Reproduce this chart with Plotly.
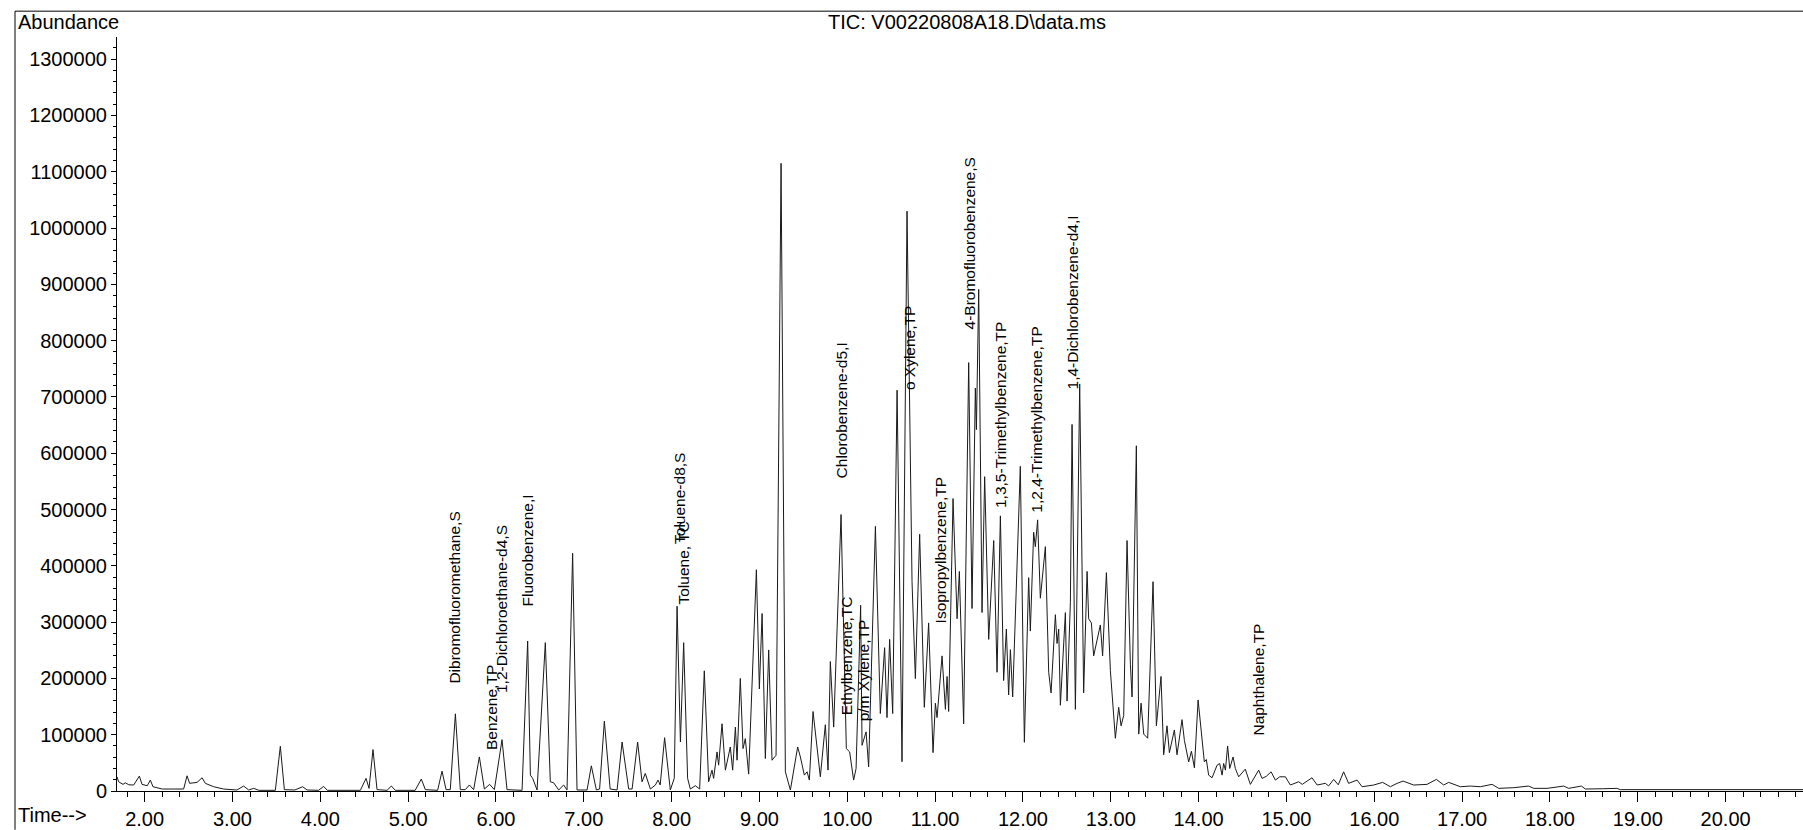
import plotly.graph_objects as go

# ---- TIC trace: retention time (min) / abundance at the trace vertices ----
t_early = [1.686, 1.704, 1.754, 1.78, 1.82, 1.875, 1.94, 1.97, 2.03, 2.065, 2.095, 2.20,
           2.444, 2.483, 2.512, 2.597, 2.654, 2.691, 2.786, 2.90, 3.05, 3.127, 3.184, 3.241,
           3.30, 3.488, 3.545, 3.591, 3.71, 3.799, 3.85, 3.98, 4.038, 4.08, 4.456, 4.521,
           4.555, 4.60, 4.646, 4.76, 4.809, 4.854, 5.08, 5.15, 5.196, 5.27, 5.336, 5.386,
           5.432, 5.48, 5.538, 5.594, 5.651, 5.697, 5.746, 5.811, 5.868, 5.928, 5.982, 6.069,
           6.126, 6.297]
a_early = [25200, 16400, 11800, 14600, 11000, 10600, 26500, 11800, 9400, 19400, 7600, 3500,
           3500, 27000, 13600, 15300, 23500, 13600, 7600, 3500, 1800, 8800, 1800, 4700,
           1200, 1200, 79400, 2400, 1800, 7600, 1800, 1200, 8200, 1200, 1200, 22400,
           4700, 73600, 2400, 1200, 8800, 1200, 1200, 21200, 2400, 1200, 1200, 35300,
           2400, 2400, 137100, 2400, 2400, 10600, 2400, 60500, 3500, 11800, 2400, 91200,
           2400, 1200]

t_mid = [6.361, 6.392, 6.418, 6.468, 6.562, 6.619, 6.657, 6.714, 6.771, 6.809, 6.873, 6.923,
         7.037, 7.086, 7.143, 7.18, 7.234, 7.30, 7.379, 7.436, 7.511, 7.55, 7.613, 7.663,
         7.70, 7.758, 7.815, 7.845, 7.87, 7.92, 7.985, 8.03, 8.062, 8.10, 8.137, 8.182,
         8.213, 8.27, 8.319, 8.372, 8.421, 8.46, 8.478, 8.517, 8.535, 8.574, 8.612, 8.668,
         8.695, 8.726, 8.745, 8.782, 8.813, 8.839, 8.877, 8.965, 8.999, 9.03, 9.067, 9.105,
         9.143, 9.189, 9.246, 9.295, 9.352]
a_mid = [266500, 28200, 22400, 1800, 263500, 16400, 14600, 1800, 10600, 1800, 422300, 1800,
         1800, 44700, 1800, 3500, 124100, 3500, 1800, 87000, 3500, 3500, 87000, 16400,
         31200, 3500, 10600, 19400, 10600, 94700, 1800, 22400, 328200, 87000, 263500, 22400,
         3500, 9400, 3500, 213500, 16400, 37000, 22400, 69400, 45900, 119400, 37000, 78200,
         37000, 113500, 54700, 200000, 75300, 93000, 30000, 393000, 181200, 315300, 57700, 250600,
         54700, 63500, 1115000, 34100, 1800]

t_core = [9.435, 9.466, 9.511, 9.542, 9.568, 9.61, 9.693, 9.75, 9.781, 9.807, 9.845, 9.929,
          9.989, 10.027, 10.072, 10.10, 10.152, 10.168, 10.214, 10.243, 10.32, 10.376, 10.425,
          10.452, 10.482, 10.517, 10.567, 10.623, 10.68, 10.737, 10.775, 10.824, 10.877,
          10.926, 10.976, 11.003, 11.022, 11.079, 11.117, 11.136, 11.154, 11.204, 11.25,
          11.276, 11.325, 11.382, 11.42, 11.458, 11.47, 11.496, 11.534, 11.564, 11.61,
          11.667, 11.705, 11.743, 11.78, 11.811, 11.837, 11.857, 11.883, 11.97, 12.016,
          12.065, 12.084, 12.122, 12.141, 12.167, 12.198, 12.255, 12.293, 12.32, 12.369,
          12.388, 12.407, 12.426, 12.483, 12.502, 12.54, 12.559, 12.597, 12.646, 12.691, 12.73]
a_core = [78200, 60500, 28200, 34100, 19400, 141200, 25200, 117700, 37100, 230000, 113500, 491100,
          75300, 69400, 19400, 40000, 330000, 81200, 105000, 42900, 470000, 137600, 254600,
          130400, 269300, 137600, 712000, 52000, 1030000, 371800, 199700, 456000, 148600,
          298600, 68100, 156000, 130400, 240000, 145000, 203500, 141300, 519500, 306000,
          390000, 119300, 761000, 324200, 715500, 642000, 891000, 317000, 558300, 269300,
          444900, 210900, 488800, 196200, 287600, 170600, 251100, 167000, 576700, 86500,
          379000, 284100, 459500, 434000, 481600, 342500, 434000, 210900, 174200, 313200,
          262000, 287600, 152300, 316900, 159700, 335300, 651100, 145000, 723000, 174200, 390000]

t_late = [12.748, 12.779, 12.805, 12.881, 12.907, 12.95, 12.995, 13.052, 13.09, 13.117, 13.147,
          13.185, 13.223, 13.242, 13.291, 13.318, 13.345, 13.375, 13.42, 13.481, 13.519, 13.572,
          13.602, 13.64, 13.667, 13.724, 13.754, 13.811, 13.838, 13.887, 13.918, 13.952, 13.994,
          14.039, 14.065, 14.088, 14.114, 14.153, 14.21, 14.24, 14.267, 14.285, 14.305, 14.33,
          14.354, 14.392, 14.418, 14.456, 14.531, 14.589, 14.684, 14.722, 14.77, 14.825, 14.874,
          14.923, 14.988, 15.044, 15.139, 15.18, 15.291, 15.349, 15.443, 15.48, 15.538, 15.59,
          15.651, 15.708, 15.804, 15.861, 15.993, 16.095, 16.183, 16.26, 16.328, 16.449, 16.6,
          16.707, 16.79, 16.847, 16.98, 17.094, 17.208, 17.341, 17.417, 17.587, 17.758, 17.815,
          17.967, 18.156, 18.213, 18.358, 18.403, 18.6, 18.765, 18.80, 19.5, 20.885]
a_late = [306000, 298600, 240000, 294900, 240000, 387900, 214400, 93700, 148600, 115800, 134100,
          444900, 225300, 167000, 613200, 101100, 156000, 101100, 93700, 371800, 115800, 203500,
          64400, 115800, 68100, 108400, 64400, 126700, 90000, 51700, 70600, 41100, 161800,
          93000, 51700, 55900, 28200, 23500, 45900, 48800, 28200, 48800, 37100, 80000,
          40000, 60500, 40000, 25200, 38800, 11800, 37100, 22400, 26000, 34100, 19400,
          25200, 25200, 10600, 16400, 11800, 23500, 10600, 13600, 9000, 20600, 11000,
          34100, 13600, 19400, 7600, 10600, 15300, 7600, 13600, 17600, 10600, 11800,
          20600, 10600, 15300, 7600, 8800, 7600, 11800, 4700, 5900, 8800, 4700,
          4700, 8800, 4700, 8800, 3500, 4000, 4700, 2400, 2400, 2400]

# ---- compound labels: name, retention time, abundance at the foot of the text ----
label_names = ["Dibromofluoromethane,S", "Benzene,TP", "1,2-Dichloroethane-d4,S",
               "Fluorobenzene,I", "Toluene-d8,S", "Toluene, TC", "Chlorobenzene-d5,I",
               "Ethylbenzene,TC", "p/m Xylene,TP", "o Xylene,TP", "Isopropylbenzene,TP",
               "4-Bromofluorobenzene,S", "1,3,5-Trimethylbenzene,TP",
               "1,2,4-Trimethylbenzene,TP", "1,4-Dichlorobenzene-d4,I", "Naphthalene,TP"]
label_times = [5.532, 5.947, 6.061, 6.357, 8.082, 8.133, 9.938, 10.001, 10.189, 10.701,
               11.065, 11.390, 11.746, 12.158, 12.568, 14.684]
label_feet = [187000, 68800, 171000, 324700, 435900, 327300, 551400, 130600, 120000, 708300,
              293800, 817000, 498500, 490600, 709400, 94400]

# ---- axes ----
time_ticks = list(range(2, 21))
abundance_ticks = list(range(0, 1300001, 100000))

t_all = t_early + t_mid + t_core + t_late
a_all = a_early + a_mid + a_core + a_late

W, H = 1803, 830
L, R, T, B = 117, 0, 37, 34
FONT = "Liberation Sans, Arial, Helvetica, sans-serif"


def px_x(px):
    return (px - L) / (W - L - R)


def px_y(py):
    return (H - B - py) / (H - T - B)


fig = go.Figure()
fig.add_trace(go.Scatter(x=t_all, y=a_all, mode="lines",
                         line=dict(color="#1a1a1a", width=1), hoverinfo="x+y",
                         showlegend=False))

annotations = []
for name, t, foot in zip(label_names, label_times, label_feet):
    annotations.append(dict(x=t, y=foot, xref="x", yref="y", text=name, showarrow=False,
                            textangle=-90, xanchor="center", yanchor="bottom",
                            font=dict(family=FONT, size=15.5, color="#000")))

annotations += [
    dict(x=px_x(16), y=px_y(22), xref="paper", yref="paper", text="Abundance",
         showarrow=False, xanchor="left", yanchor="middle",
         font=dict(family=FONT, size=20, color="#000")),
    dict(x=px_x(967), y=px_y(22), xref="paper", yref="paper",
         text="TIC: V00220808A18.D\\data.ms", showarrow=False, xanchor="center",
         yanchor="middle", font=dict(family=FONT, size=20, color="#000")),
    dict(x=px_x(16), y=px_y(820), xref="paper", yref="paper", text="Time-->",
         showarrow=False, xanchor="left", yanchor="middle",
         font=dict(family=FONT, size=20, color="#000")),
]

shapes = [
    dict(type="line", xref="paper", yref="paper", x0=px_x(15), x1=px_x(W + 5),
         y0=px_y(11), y1=px_y(11), line=dict(color="#000", width=1)),
    dict(type="line", xref="paper", yref="paper", x0=px_x(15), x1=px_x(15),
         y0=px_y(11), y1=px_y(H + 5), line=dict(color="#000", width=1)),
]

fig.update_layout(
    width=W, height=H,
    margin=dict(l=L, r=R, t=T, b=B, pad=0),
    paper_bgcolor="white", plot_bgcolor="white",
    showlegend=False,
    annotations=annotations,
    shapes=shapes,
    xaxis=dict(range=[1.6854, 20.881], tickmode="array", tickvals=time_ticks,
               ticktext=["%.2f" % v for v in time_ticks], showgrid=False, zeroline=False,
               showline=True, linecolor="#000", linewidth=1, ticks="outside", ticklen=10,
               tickcolor="#000", tickwidth=1,
               tickfont=dict(family=FONT, size=20, color="#000"),
               minor=dict(tick0=0, dtick=0.2, ticks="outside", ticklen=5, tickcolor="#000",
                          tickwidth=1, showgrid=False),
               fixedrange=True),
    yaxis=dict(range=[0, 1339350], tickmode="array", tickvals=abundance_ticks,
               ticktext=[str(v) for v in abundance_ticks], showgrid=False, zeroline=False,
               showline=True, linecolor="#000", linewidth=1, ticks="outside", ticklen=5,
               tickcolor="#000", tickwidth=1,
               tickfont=dict(family=FONT, size=20, color="#000"),
               minor=dict(tick0=0, dtick=20000, ticks="outside", ticklen=3, tickcolor="#000",
                          tickwidth=1, showgrid=False),
               fixedrange=True),
)

fig.write_html("out.html")
